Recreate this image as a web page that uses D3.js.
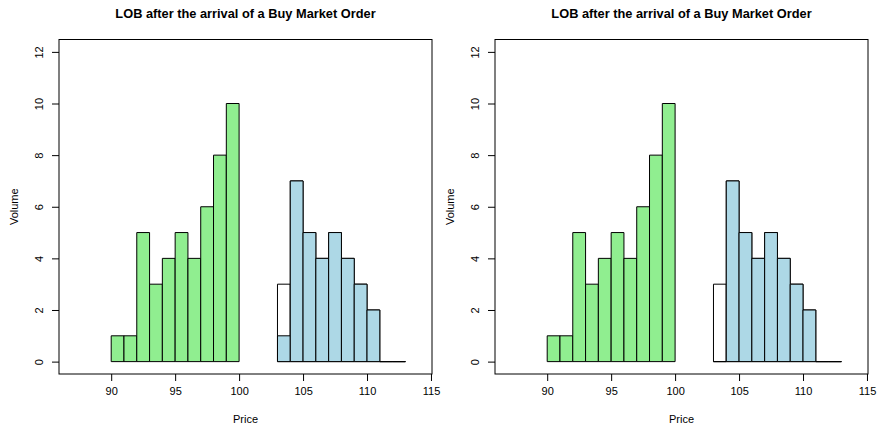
<!doctype html>
<html>
<head>
<meta charset="utf-8"/>
<title>LOB after the arrival of a Buy Market Order</title>
<script src="https://d3js.org/d3.v7.min.js"></script>
<style>
body{margin:0;background:#fff;}
text{font-family:"Liberation Sans",Arial,sans-serif;fill:#000;}
</style>
</head>
<body>
<script>
// bid side (green) and ask side (blue), one bar per price level
var bidPrices = [90, 91, 92, 93, 94, 95, 96, 97, 98, 99];
var bidVolume = [1, 1, 5, 3, 4, 5, 4, 6, 8, 10];
var askPrices = [103, 104, 105, 106, 107, 108, 109, 110, 111, 112];
var askBefore = [3, 7, 5, 4, 5, 4, 3, 2, 0, 0];
var askAfterLeft = [1, 7, 5, 4, 5, 4, 3, 2, 0, 0];
var askAfterRight = [0, 7, 5, 4, 5, 4, 3, 2, 0, 0];
var xTicks = [90, 95, 100, 105, 110, 115];
var yTicks = [0, 2, 4, 6, 8, 10, 12];
var title = "LOB after the arrival of a Buy Market Order";

var W = 879, H = 430;
var svg = d3.select("body").append("svg")
    .attr("width", W)
    .attr("height", H);

// x limits 87..114 and y limits 0..12, each widened by 4% like R
var xlo = 87, xhi = 114, xr = xhi - xlo;
var yr = 12;

function panel(offset, askAfter)
{
    var left = 59 + offset, right = 432 + offset;
    var top = 39.5, bottom = 374;

    var x = d3.scaleLinear().domain([xlo - 0.04 * xr, xhi + 0.04 * xr]).range([left, right]);
    var y = d3.scaleLinear().domain([-0.04 * yr, yr + 0.04 * yr]).range([bottom, top]);

    // bars as paths so zero volume still shows as a flat line
    function bar(p, v)
    {
        return "M" + x(p) + "," + y(0) + "V" + y(v) + "H" + x(p + 1) + "V" + y(0) + "Z";
    }

    var g = svg.append("g");

    function drawBars(prices, vols, fill)
    {
        g.append("g").selectAll("path")
            .data(prices)
            .enter()
            .append("path")
            .attr("d", function(d,i){ return bar(d, vols[i]) })
            .attr("fill", fill)
            .attr("stroke", "black");
    }

    // ask before (white) drawn first, blue on top
    drawBars(askPrices, askBefore, "white");
    drawBars(askPrices, askAfter, "lightblue");
    drawBars(bidPrices, bidVolume, "lightgreen");

    // box
    g.append("rect")
        .attr("x", left)
        .attr("y", top)
        .attr("width", right - left)
        .attr("height", bottom - top)
        .attr("fill", "none")
        .attr("stroke", "black");

    // x axis
    var xa = g.append("g").attr("transform", "translate(0," + bottom + ")")
        .call(d3.axisBottom(x).tickValues(xTicks).tickSize(7).tickPadding(6).tickSizeOuter(0));
    xa.select(".domain").remove();
    xa.selectAll("text").attr("font-size", "11px").attr("font-family", null);

    // y axis, labels turned like R
    var ya = g.append("g").attr("transform", "translate(" + left + ",0)")
        .call(d3.axisLeft(y).tickValues(yTicks).tickSize(7).tickSizeOuter(0));
    ya.select(".domain").remove();
    ya.selectAll("text")
        .attr("font-size", "11px")
        .attr("font-family", null)
        .attr("x", null).attr("dy", null)
        .attr("text-anchor", "middle")
        .attr("transform", "translate(-16,0) rotate(-90)");

    g.append("text")
        .attr("x", (left + right) / 2)
        .attr("y", 18)
        .attr("text-anchor", "middle")
        .attr("font-weight", "bold")
        .attr("font-size", "12.8px")
        .text(title);

    g.append("text")
        .attr("x", (left + right) / 2)
        .attr("y", 423)
        .attr("text-anchor", "middle")
        .attr("font-size", "11px")
        .text("Price");

    g.append("text")
        .attr("transform", "translate(" + (left - 41) + "," + ((top + bottom) / 2) + ") rotate(-90)")
        .attr("text-anchor", "middle")
        .attr("font-size", "11px")
        .text("Volume");
}

panel(0, askAfterLeft);
panel(436, askAfterRight);
</script>
</body>
</html>
